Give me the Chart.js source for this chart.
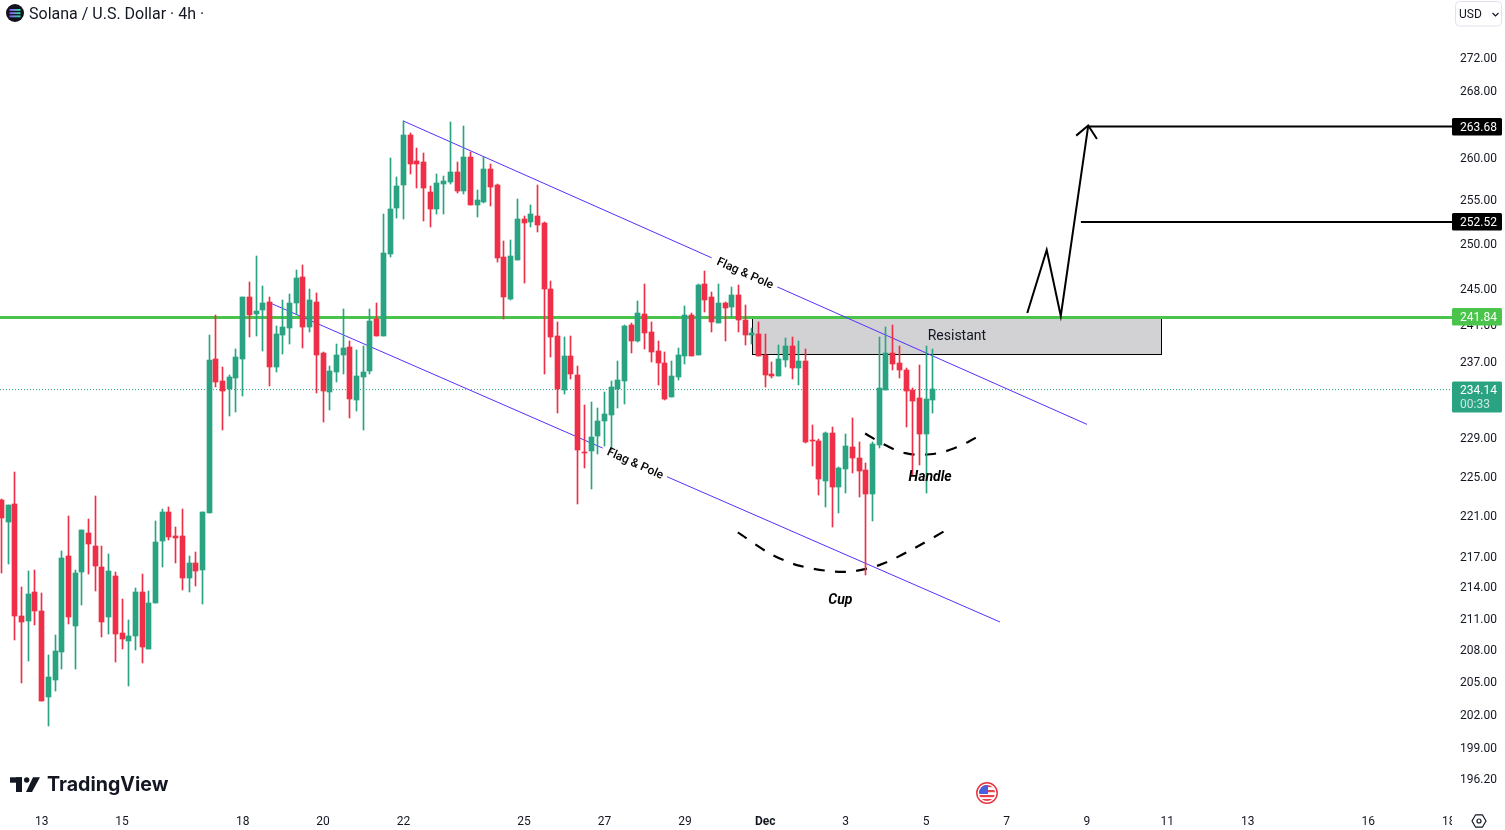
<!DOCTYPE html>
<html><head><meta charset="utf-8">
<style>html,body{margin:0;padding:0;background:#fff;overflow:hidden}canvas{display:block}</style>
<script src="https://cdn.jsdelivr.net/npm/chart.js@4/dist/chart.umd.min.js"></script>
</head><body><canvas id="c" width="1505" height="830"></canvas>
<script>
const opens=[222.6,220.44,222.23,211.24,210.77,213.55,211.72,203.6,205.2,207.81,217.07,210.29,215.5,219.34,218.05,215.99,211.15,215.1,209.62,208.86,209.33,213.55,208.1,212.48,218.55,221.43,219.04,219.04,214.92,216.38,215.7,221.34,237.33,234.98,234.13,235.3,237.33,244.08,242.22,242.66,243.53,236.47,239.93,240.69,243.42,246.32,240.8,243.53,237.97,233.81,235.94,237.76,238.62,232.95,235.41,236.05,241.68,239.82,248.89,254.14,256.8,262.68,259.6,259.49,256.0,254.02,256.92,257.15,258.32,256.1,260.07,254.48,254.82,258.67,256.8,248.56,243.86,248.22,252.88,252.54,253.22,252.42,244.97,239.82,234.02,237.65,235.62,227.53,227.63,229.19,230.76,231.38,234.13,234.98,240.98,239.27,242.22,240.25,238.18,236.9,233.27,235.41,237.65,242.11,237.76,245.54,244.08,241.24,243.42,242.99,244.3,241.57,239.93,240.04,237.76,235.73,235.51,237.22,238.73,236.36,237.11,228.78,228.67,224.57,229.5,223.96,225.79,228.04,226.91,225.69,223.24,228.25,234.02,237.97,236.9,236.15,234.02,233.17,229.4,232.95];
const closes=[220.84,222.13,211.24,210.67,213.36,211.72,203.25,205.48,207.9,216.87,211.15,215.41,219.64,218.25,216.09,210.67,215.6,209.53,209.05,209.33,213.55,208.29,212.48,218.45,221.43,218.94,218.85,214.92,216.38,215.6,221.43,237.22,234.87,233.91,235.41,237.54,244.08,242.11,242.55,243.42,236.47,240.04,240.8,243.42,246.2,240.8,243.75,237.76,233.91,236.05,237.76,238.51,233.06,235.51,235.94,241.46,239.82,249.0,254.02,256.69,262.68,259.25,259.25,256.45,254.02,257.04,257.27,258.32,256.1,260.07,254.48,255.05,258.67,256.57,248.45,244.08,248.67,252.88,252.42,253.45,252.2,244.98,239.71,234.13,237.65,235.73,227.73,227.42,229.09,230.76,231.49,234.34,235.09,240.91,239.27,242.33,240.15,238.08,236.9,233.06,235.51,237.76,242.11,237.65,245.43,243.75,241.35,243.42,242.88,244.3,241.57,239.93,240.15,237.65,235.62,235.51,237.33,238.73,236.36,237.11,228.57,228.67,224.77,229.5,223.96,225.89,228.15,226.91,225.59,223.24,228.36,234.23,237.97,236.79,236.15,233.91,232.85,229.4,233.06,234.14];
const highs=[222.77,222.13,225.48,214.04,215.6,215.7,213.45,207.53,209.43,217.55,221.04,215.7,219.64,220.74,223.01,218.05,217.26,215.5,212.87,210.86,213.95,215.31,213.65,220.54,221.73,221.93,219.94,221.73,217.07,217.46,221.43,239.93,242.11,236.47,235.62,238.4,244.08,245.76,248.67,245.31,244.08,240.91,243.75,244.42,247.1,247.66,244.97,244.53,238.08,236.58,238.95,242.77,239.27,238.29,238.73,242.77,243.42,253.45,259.96,257.73,264.36,262.92,261.13,260.54,256.69,258.09,257.86,264.24,259.49,263.76,260.66,256.22,260.07,259.25,256.92,250.37,250.48,255.17,253.22,254.48,256.8,252.54,245.87,241.35,239.71,239.82,236.58,232.43,232.74,232.11,233.81,234.98,237.11,240.98,241.2,243.64,245.54,241.35,239.27,238.08,237.11,238.51,243.09,242.33,245.54,247.0,244.64,245.54,243.53,245.2,245.43,243.2,240.69,241.35,240.04,237.0,238.84,239.6,239.71,239.27,238.4,230.34,228.89,229.6,230.13,225.99,229.4,231.07,228.57,226.4,228.57,239.71,240.8,240.98,238.73,236.36,234.23,236.68,238.73,238.4];
const lows=[215.44,216.29,208.95,204.92,206.97,210.39,203.25,200.98,204.17,206.23,210.48,206.23,212.29,215.31,213.65,209.24,209.53,206.88,208.1,204.64,208,206.79,208.1,212.48,215.99,218.65,216.38,213.75,213.55,214.14,212.39,221.34,234.34,229.82,231.28,231.7,233.38,239.71,239.82,238.18,234.45,235.94,237.86,238.95,242.11,238.51,240.25,233.7,230.65,231.9,234.87,235.73,231.07,231.8,229.82,235.73,239.82,239.82,248.56,253.0,252.88,258.09,256.45,252.65,251.96,253.45,253.45,256.92,255.87,255.75,254.48,253.11,254.71,254.36,248.0,241.68,243.75,248.22,245.65,251.96,251.4,235.73,237.54,231.59,233.59,235.2,222.23,225.9,223.75,227.32,228.15,227.73,232.11,232.53,237.97,239.16,238.4,237.0,234.55,232.95,233.27,235.09,236.79,237.65,237.76,242.44,240.25,241.24,239.27,241.9,240.25,238.84,238.95,237.65,234.34,235.3,235.51,236.47,235.2,234.55,228.46,226.1,223.14,221.93,219.94,221.33,223.34,225.38,222.94,215.21,220.54,227.94,234.02,236.15,235.3,230.13,225.18,226.2,223.34,231.59];

const xTickIndex=[6,18,36,48,60,78,90,102,114,126,138,150,162,174,186,204,216];
const xTickLabels=['13','15','18','20','22','25','27','29','Dec','3','5','7','9','11','13','16','18'];
const yTicks=[272,268,260,255,250,245,241,237,233,229,225,221,217,214,211,208,205,202,199,196.2];

const supportLevel=241.84, targetOne=252.52, targetTwo=263.68, lastPrice=234.14;
const zoneBox={i0:112,i1:173.1,hi:241.84,lo:237.9};
const upperChannelA=[{x:59.93,y:264.36},{x:106.0,y:248.46}];
const upperChannelB=[{x:115.8,y:245.2},{x:162.01,y:230.4}];
const lowerChannelA=[{x:39.78,y:243.53},{x:89.73,y:227.94}];
const lowerChannelB=[{x:99.33,y:225.0},{x:149.03,y:210.67}];
const cupArc=[{x:109.9,y:219.4},{x:114.7,y:217.3},{x:119.2,y:216.09},{x:125.9,y:215.5},{x:131.1,y:216.19},{x:136.3,y:217.85},{x:141.3,y:219.75}];
const handleArc=[{x:128.9,y:229.45},{x:131.9,y:228.25},{x:134.9,y:227.42},{x:138.6,y:227.3},{x:142.3,y:227.94},{x:145.8,y:229.15}];
const zigzag=[{x:153.1,y:242.33},{x:156.0,y:249.34},{x:158.1,y:242.0},{x:162.2,y:263.8}];
const arrowHead=[{x:160.4,y:262.6},{x:162.2,y:263.8},{x:163.5,y:262.2}];
const targetOneLine=[{x:161.1,y:targetOne},{x:216.49,y:targetOne}];
const targetTwoLine=[{x:162.2,y:targetTwo},{x:216.49,y:targetTwo}];
const supportLine=[{x:-0.22,y:supportLevel},{x:216.49,y:supportLevel}];
const lastLine=[{x:-0.22,y:234.06},{x:216.49,y:234.06}];
const notes=[
 {x:110.96,y:246.66,t:'Flag & Pole',a:24,f:'500 12px Roboto',c:'#000'},
 {x:94.55,y:226.3,t:'Flag & Pole',a:24,f:'500 12px Roboto',c:'#000'},
 {x:138.6,y:224.9,t:'Handle',a:0,f:'italic 700 14px Roboto',c:'#000'},
 {x:125.2,y:212.7,t:'Cup',a:0,f:'italic 700 14px Roboto',c:'#000'},
 {x:142.6,y:239.71,t:'Resistant',a:0,f:'14px Roboto',c:'#131722'}
];

const UP='#2aa383',DOWN='#ee2f47',BLUE='#5a2dff',GREEN='#4bc44b',INK='#131722';
const colors=opens.map((o,i)=>closes[i]>=o?UP:DOWN);
const line=(data,color,width,extra)=>Object.assign({type:'line',data,borderColor:color,borderWidth:width,pointRadius:0,tension:0,order:10,fill:false},extra||{});

const snapPlugin={id:'snap',afterDatasetsUpdate(ch){
  ch.data.datasets.forEach((d,k)=>{
    if(d.type!=='bar')return;
    ch.getDatasetMeta(k).data.forEach(el=>{
      el.x=Math.floor(el.x)+0.5;
      el.y=Math.round(el.y);el.base=Math.round(el.base);
      if(Math.abs(el.y-el.base)<1)el.base=el.y+1;
    });
  });
}};

function box(ctx,x,y,w,h,fill){ctx.fillStyle=fill;ctx.beginPath();ctx.roundRect(x,y,w,h,1.5);ctx.fill();}
const decorPlugin={id:'decor',
 beforeDatasetsDraw(ch){
  const c=ch.ctx,X=ch.scales.x,Y=ch.scales.y;
  const l=Math.round(X.getPixelForValue(zoneBox.i0))+.5,r=Math.round(X.getPixelForValue(zoneBox.i1))+.5;
  const t=Math.round(Y.getPixelForValue(zoneBox.hi))+.5,b=Math.round(Y.getPixelForValue(zoneBox.lo))+.5;
  c.save();c.fillStyle='#d2d2d5';c.fillRect(l,t,r-l,b-t);
  c.strokeStyle='#000';c.lineWidth=1;c.strokeRect(l,t,r-l,b-t);c.restore();
 },
 afterDatasetsDraw(ch){
  const c=ch.ctx,X=ch.scales.x,Y=ch.scales.y;
  c.save();c.textAlign='center';c.textBaseline='middle';
  notes.forEach(n=>{c.save();c.translate(X.getPixelForValue(n.x),Y.getPixelForValue(n.y));c.rotate(n.a*Math.PI/180);c.font=n.f;c.fillStyle=n.c;c.fillText(n.t,0,0);c.restore();});
  c.restore();
 },
 afterDraw(ch){
  const c=ch.ctx,Y=ch.scales.y;
  c.save();
  // x-axis label is clipped by the price-scale corner
  c.fillStyle='#fff';c.fillRect(1452,806,53,24);
  c.textBaseline='middle';c.textAlign='left';c.font='12px Roboto';
  const tag=(v,fill)=>{const y=Math.round(Y.getPixelForValue(v));box(c,1452,y-9,50,17.5,fill);c.fillStyle='#fff';c.fillText(v.toFixed(2),1460,y+1);};
  tag(targetTwo,'#000');tag(targetOne,'#000');tag(supportLevel,GREEN);
  const ly=Math.round(Y.getPixelForValue(lastPrice))+1;
  box(c,1452,ly-8.5,50,31,UP);c.fillStyle='#fff';c.fillText(lastPrice.toFixed(2),1460,ly+0.5);
  c.fillStyle='rgba(255,255,255,.75)';c.fillText('00:33',1460,ly+14.5);
  // currency button
  c.strokeStyle='#e0e3eb';c.lineWidth=1;c.beginPath();c.roundRect(1455.5,1.5,46,24.5,4);c.stroke();
  c.fillStyle=INK;c.font='12px Roboto';c.fillText('USD',1459,15);
  c.strokeStyle=INK;c.lineWidth=1.2;c.beginPath();c.moveTo(1492.5,13);c.lineTo(1495.5,16);c.lineTo(1498.5,13);c.stroke();
  // title
  c.fillStyle='#12121a';c.beginPath();c.arc(15,13,9,0,Math.PI*2);c.fill();
  const g=c.createLinearGradient(9,0,21,0);g.addColorStop(0,'#9945ff');g.addColorStop(.5,'#5f9bd0');g.addColorStop(1,'#14f195');
  c.fillStyle=g;[9,12.2,15.4].forEach(y=>c.fillRect(9.5,y,11,1.9));
  c.fillStyle=INK;c.font='16px Roboto';c.fillText('Solana / U.S. Dollar · 4h ·',29,15);
  // logo
  c.fillStyle='#131722';
  c.fillRect(10,777.3,12,5.4);c.fillRect(16,777.3,6,14.7);
  c.beginPath();c.arc(26.7,780,2.7,0,Math.PI*2);c.fill();
  c.beginPath();c.moveTo(33,777.3);c.lineTo(40,777.3);c.lineTo(32,792);c.lineTo(26,792);c.fill();
  c.font='700 19.6px Inter';c.fillText('TradingView',47,785.5);
  // flag badge
  const fx=987,fy=793;
  c.strokeStyle='#e8343e';c.lineWidth=1.5;c.beginPath();c.arc(fx,fy,10.2,0,Math.PI*2);c.stroke();
  c.save();c.beginPath();c.arc(fx,fy,8,0,Math.PI*2);c.clip();
  c.fillStyle='#fff';c.fillRect(fx-9,fy-9,18,18);
  c.fillStyle='#e8434c';[-8,-3,2,6].forEach(d=>c.fillRect(fx-9,fy+d,18,2.2));
  c.fillStyle='#4a5fdc';c.fillRect(fx-9,fy-9,10,10);
  c.restore();
  // settings gear
  c.strokeStyle=INK;c.lineWidth=1.2;c.lineJoin='round';c.beginPath();
  for(let k=0;k<6;k++){const a=k*Math.PI/3,px=1479+7*Math.cos(a),py=821+7*Math.sin(a);k?c.lineTo(px,py):c.moveTo(px,py);}
  c.closePath();c.stroke();c.beginPath();c.arc(1479,821,2,0,Math.PI*2);c.stroke();
  c.restore();
 }};

new Chart(document.getElementById('c'),{
 type:'bar',
 data:{datasets:[
  {type:'bar',data:opens.map((o,i)=>({x:i,y:[o,closes[i]]})),backgroundColor:colors,barThickness:5,grouped:false,order:1,borderWidth:0},
  {type:'bar',data:highs.map((h,i)=>({x:i,y:[lows[i],h]})),backgroundColor:colors,barThickness:1,grouped:false,order:2,borderWidth:0},
  line(upperChannelA,BLUE,1),line(upperChannelB,BLUE,1),line(lowerChannelA,BLUE,1),line(lowerChannelB,BLUE,1),
  line(cupArc,'#000',2.2,{tension:.3,borderDash:[11,10.3]}),line(handleArc,'#000',2.2,{tension:.4,borderDash:[11,10.6]}),
  line(zigzag,'#000',2),line(arrowHead,'#000',2),line(targetOneLine,'#000',2),line(targetTwoLine,'#000',2),
  line(supportLine,GREEN,3,{order:11}),line(lastLine,UP,1,{borderDash:[1,2],order:12})
 ]},
 options:{responsive:false,animation:false,events:[],
  layout:{padding:0},
  plugins:{legend:{display:false},tooltip:{enabled:false}},
  scales:{
   x:{type:'linear',offset:false,min:-0.22,max:216.49,
     grid:{display:false,drawTicks:false},border:{display:false},
     afterBuildTicks:s=>{s.ticks=xTickIndex.map(v=>({value:v}));},
     afterFit:s=>{s.height=24;s.paddingLeft=0;s.paddingRight=0;s.paddingTop=0;s.paddingBottom=0;},
     ticks:{autoSkip:false,maxRotation:0,padding:9,color:INK,
       font:ctx=>({family:'Roboto',size:12,weight:xTickLabels[ctx.index]==='Dec'?'700':'400'}),
       callback:(v,i)=>xTickLabels[i]}},
   y:{type:'logarithmic',position:'right',min:193.82,max:279.24,bounds:'data',
     grid:{display:false,drawTicks:false},border:{display:false},
     afterBuildTicks:s=>{s.ticks=yTicks.map(v=>({value:v}));},
     afterFit:s=>{s.width=53;s.paddingTop=0;s.paddingBottom=0;s.paddingLeft=0;s.paddingRight=0;},
     ticks:{autoSkip:false,padding:8,labelOffset:1,color:INK,font:{family:'Roboto',size:12},callback:v=>Number(v).toFixed(2)}}
  }},
 plugins:[snapPlugin,decorPlugin]
});
</script></body></html>
